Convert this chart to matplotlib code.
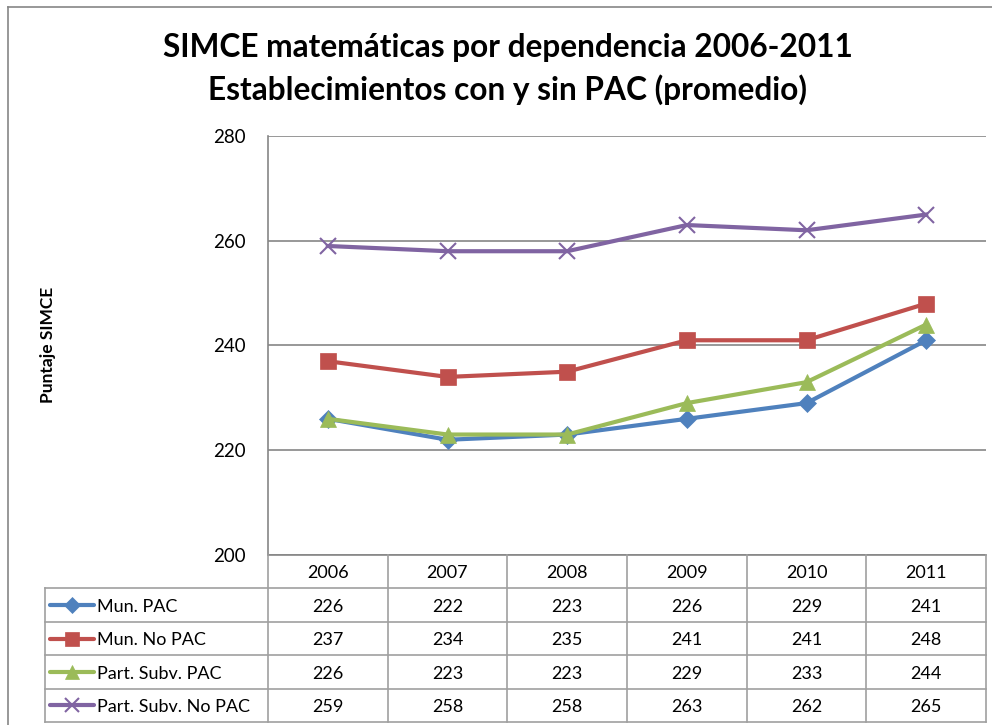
import numpy as np
import matplotlib
matplotlib.use("Agg")
from matplotlib import pyplot as plt
from matplotlib.lines import Line2D

plt.rcParams['font.family'] = ['Lato', 'DejaVu Sans']

years = ['2006', '2007', '2008', '2009', '2010', '2011']
series_names = ['Mun. PAC', 'Mun. No PAC', 'Part. Subv. PAC', 'Part. Subv. No PAC']
mun_pac = [226, 222, 223, 226, 229, 241]
mun_no_pac = [237, 234, 235, 241, 241, 248]
part_pac = [226, 223, 223, 229, 233, 244]
part_no_pac = [259, 258, 258, 263, 262, 265]

series = [mun_pac, mun_no_pac, part_pac, part_no_pac]
colors = ['#4F81BD', '#C0504D', '#9BBB59', '#8064A2']
markers = ['D', 's', '^', 'x']
msizes = [9, 11, 11, 11]

W, H = 992, 725
fig = plt.figure(figsize=(W / 100, H / 100), dpi=100)

# plot area in pixels
L, R, T, B = 268, 986, 136, 555
ax = fig.add_axes([L / W, 1 - B / H, (R - L) / W, (B - T) / H])
x = np.arange(len(years))
order = [3, 1, 0, 2]
for i in order:
    ax.plot(x, series[i], color=colors[i], lw=3, marker=markers[i],
            markersize=msizes[i], markeredgewidth=1.5 if markers[i] == 'x' else 0.5,
            markeredgecolor=colors[i], zorder=3, solid_joinstyle='round')
ax.set_xlim(-0.5, len(years) - 0.5)
ax.set_ylim(200, 280)
ax.set_yticks([200, 220, 240, 260, 280])
ax.set_xticks([])
ax.tick_params(axis='y', length=0, pad=16, labelsize=13.5)
ax.yaxis.grid(True, color='#868686', lw=1.2)
ax.set_axisbelow(True)
for s in ['top', 'right']:
    ax.spines[s].set_visible(False)
ax.spines['left'].set_color('#868686')
ax.spines['left'].set_linewidth(1.2)
ax.spines['bottom'].set_color('#868686')
ax.spines['bottom'].set_linewidth(1.2)

# title and y label
fig.text(508 / W, 1 - 48 / H, 'SIMCE matemáticas por dependencia 2006-2011',
         ha='center', va='center', fontsize=22.8, fontweight='bold')
fig.text(508 / W, 1 - 90 / H, 'Establecimientos con y sin PAC (promedio)',
         ha='center', va='center', fontsize=22.8, fontweight='bold')
fig.text(48 / W, 1 - 345 / H, 'Puntaje SIMCE', rotation=90, ha='center',
         va='center', fontsize=12.5, fontweight='bold')

# data table below
TL, TB = 45, 722
colw = (R - L) / len(years)
tax = fig.add_axes([TL / W, 1 - TB / H, (R - TL) / W, (TB - B) / H])
left_u = -0.5 - (L - TL) / colw
tax.set_xlim(left_u, len(years) - 0.5)
tax.set_ylim(5, 0)
tax.axis('off')
gc = '#A0A0A0'
nrows = len(series) + 1
for k in range(len(years) + 1):
    tax.plot([k - 0.5, k - 0.5], [0, nrows], color=gc, lw=1.2, clip_on=False)
tax.plot([left_u, left_u], [1, nrows], color=gc, lw=1.2, clip_on=False)
for r in range(1, nrows + 1):
    tax.plot([left_u, len(years) - 0.5], [r, r], color=gc, lw=1.2, clip_on=False)

for j, yr in enumerate(years):
    tax.text(j, 0.55, yr, ha='center', va='center', fontsize=13)
for i, vals in enumerate(series):
    for j, v in enumerate(vals):
        tax.text(j, i + 1.55, str(v), ha='center', va='center', fontsize=13)
    # legend key
    kx0 = left_u + 5 / colw
    kx1 = left_u + 49 / colw
    tax.add_line(Line2D([kx0, kx1], [i + 1.5, i + 1.5], color=colors[i], lw=3,
                        solid_capstyle='round', clip_on=False))
    tax.add_line(Line2D([(kx0 + kx1) / 2], [i + 1.5], color=colors[i], marker=markers[i],
                        markersize=msizes[i] - 1, markeredgecolor=colors[i],
                        markeredgewidth=1.5 if markers[i] == 'x' else 0.5, clip_on=False))
    tax.text(left_u + 52 / colw, i + 1.55, series_names[i], ha='left', va='center',
             fontsize=13)

# outer chart border
fig.add_artist(Line2D([8 / W, 1], [1 - 7 / H, 1 - 7 / H], color='#868686', lw=1.2))
fig.add_artist(Line2D([8 / W, 8 / W], [0, 1 - 7 / H], color='#868686', lw=1.2))

fig.savefig('out.png', dpi=100)
